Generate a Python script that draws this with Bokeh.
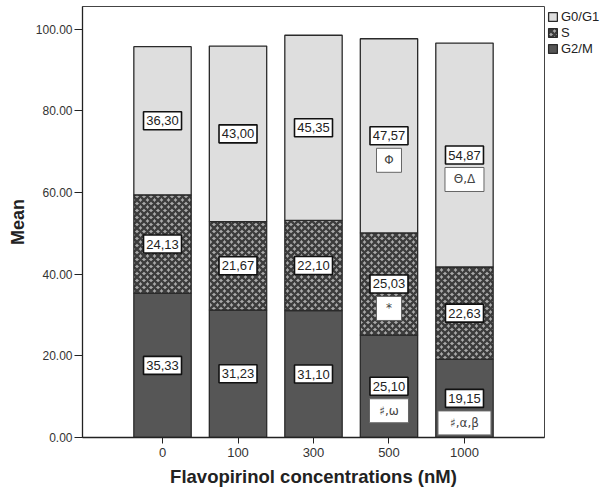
from bokeh.plotting import figure
from bokeh.models import (FactorRange, Range1d, NumeralTickFormatter, Legend,
                          LegendItem, ColumnDataSource)
from bokeh.core.properties import value
from bokeh.embed import file_html
from bokeh.resources import INLINE

# ---------------- data ----------------
concentrations = ["0", "100", "300", "500", "1000"]
g2m = [35.33, 31.23, 31.10, 25.10, 19.15]
s_phase = [24.13, 21.67, 22.10, 25.03, 22.63]
g0g1 = [36.30, 43.00, 45.35, 47.57, 54.87]
y_ticks = [0, 20, 40, 60, 80, 100]
phases = ["G2/M", "S", "G0/G1"]
# significance marks: (concentration, phase, mark)
sig_conc = ["500", "1000", "500", "500", "1000"]
sig_phase = ["G0/G1", "G0/G1", "S", "G2/M", "G2/M"]
sig_text = ["\u03a6", "\u0398,\u0394", "*", "\u266f,\u03c9", "\u266f,\u03b1,\u03b2"]

FONT = "Liberation Sans"

# ---------------- stacking ----------------
series = {"G2/M": g2m, "S": s_phase, "G0/G1": g0g1}
bottoms, tops = {}, {}
acc = [0.0] * len(concentrations)
for ph in phases:
    bottoms[ph] = list(acc)
    acc = [a + v for a, v in zip(acc, series[ph])]
    tops[ph] = list(acc)

p = figure(frame_width=462, frame_height=431, output_backend="svg", toolbar_location=None,
           x_range=FactorRange(*concentrations, range_padding=0.56,
                               range_padding_units="absolute"),
           y_range=Range1d(0, 105.6),
           min_border_left=82, min_border_right=58, min_border_top=6,
           min_border_bottom=55)

styles = {
    "G0/G1": dict(fill_color="#dedede"),
    "S": dict(fill_color="#a9a9a9", hatch_pattern="diagonal_cross",
              hatch_color="#3c3c3c", hatch_weight=2.4, hatch_scale=7),
    "G2/M": dict(fill_color="#565656"),
}
renderers = {}
for ph in phases:
    src = ColumnDataSource(dict(x=concentrations, bottom=bottoms[ph], top=tops[ph]))
    renderers[ph] = p.vbar(x="x", bottom="bottom", top="top", width=0.76, source=src,
                           line_color="#2a2a2a", line_width=1.3, **styles[ph])

# value labels
lx, ly, lt = [], [], []
for ph in phases:
    for i, c in enumerate(concentrations):
        lx.append(c)
        ly.append((bottoms[ph][i] + tops[ph][i]) / 2)
        lt.append(f"{series[ph][i]:.2f}".replace(".", ","))
lsrc = ColumnDataSource(dict(x=lx, y=ly, t=lt))
p.rect(x="x", y="y", width=38, height=18, width_units="screen", height_units="screen",
       source=lsrc, fill_color="white", line_color="#111111", line_width=1.6)
p.text(x="x", y="y", text="t", source=lsrc, text_align="center", text_baseline="middle",
       text_font=value(FONT), text_font_size="13px", text_color="#222222")

# significance marks (boxes below the value label)
sx, sy, st, sw = [], [], [], []
for c, ph, t in zip(sig_conc, sig_phase, sig_text):
    i = concentrations.index(c)
    sx.append(c)
    sy.append((bottoms[ph][i] + tops[ph][i]) / 2 - 6.0)
    st.append(t)
    sw.append(18 + 7 * len(t))
ssrc = ColumnDataSource(dict(x=sx, y=sy, t=st, w=sw))
p.rect(x="x", y="y", width="w", height=24, width_units="screen", height_units="screen",
       source=ssrc, fill_color="white", line_color="#666666", line_width=1)
p.text(x="x", y="y", text="t", source=ssrc, text_align="center", text_baseline="middle",
       text_font=value("DejaVu Sans"), text_font_size="12px", text_color="#444444")

# ---------------- axes ----------------
p.xgrid.grid_line_color = None
p.ygrid.grid_line_color = None
p.outline_line_color = "#444444"
p.outline_line_width = 1

p.yaxis.ticker = y_ticks
p.yaxis.formatter = NumeralTickFormatter(format="0.00")
p.yaxis.axis_label = "Mean"
p.xaxis.axis_label = "Flavopirinol concentrations (nM)"
for ax in (p.xaxis, p.yaxis):
    ax.axis_line_color = "#222222"
    ax.axis_line_width = 1.3
    ax.major_tick_line_color = "#222222"
    ax.major_tick_in = 0
    ax.minor_tick_line_color = None
    ax.major_label_text_font = FONT
    ax.major_label_text_color = "#333333"
    ax.axis_label_text_font = FONT
    ax.axis_label_text_font_style = "bold"
    ax.axis_label_text_color = "#222222"
    ax.axis_label_text_font_size = "18px"
p.yaxis.major_tick_out = 8
p.yaxis.major_label_standoff = 2
p.yaxis.major_label_text_font_size = "12px"
p.yaxis.axis_label_standoff = 5
p.xaxis.major_tick_out = 6
p.xaxis.major_label_standoff = 4
p.xaxis.major_label_text_font_size = "13px"
p.xaxis.axis_label_text_font_size = "18.5px"
p.xaxis.axis_label_standoff = 6

legend = Legend(items=[LegendItem(label="G0/G1", renderers=[renderers["G0/G1"]]),
                       LegendItem(label="S", renderers=[renderers["S"]]),
                       LegendItem(label="G2/M", renderers=[renderers["G2/M"]])],
                location="top_left", padding=0, margin=3, spacing=1,
                glyph_width=11, glyph_height=11, label_height=14, label_standoff=3,
                label_text_font=FONT, label_text_font_size="13px",
                label_text_color="#222222", border_line_color=None,
                background_fill_alpha=0)
p.add_layout(legend, "right")

open("out.html", "w").write(file_html(p, INLINE))
